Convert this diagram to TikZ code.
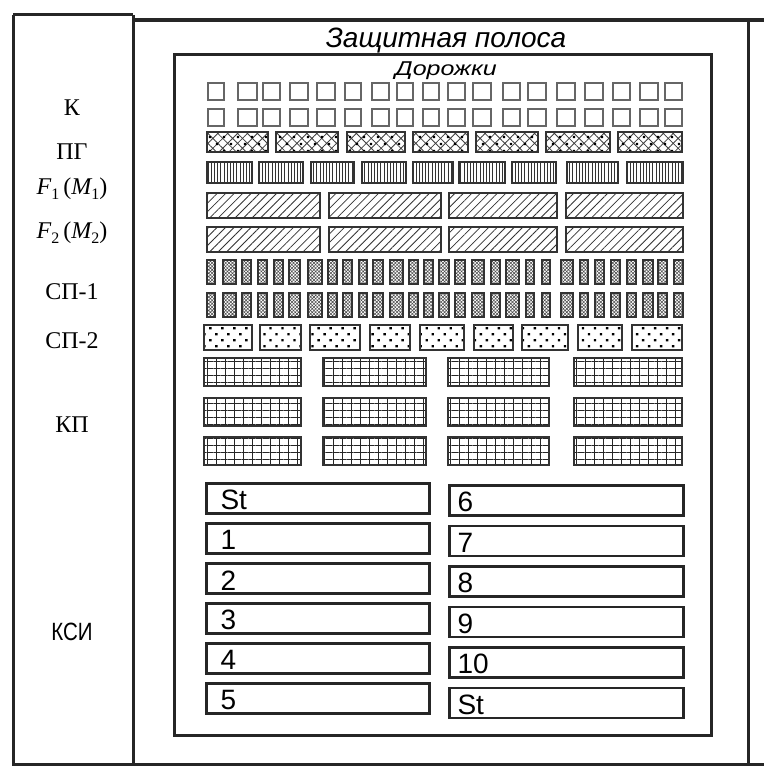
\documentclass[tikz,border=0pt]{standalone}
\usepackage{fontspec}
\setmainfont{Liberation Serif}
\setsansfont{Liberation Sans}
\usetikzlibrary{patterns,patterns.meta}
\newcommand{\subn}[1]{\raisebox{-.22em}{\fontsize{16}{16}\selectfont #1}}
\begin{document}
\begin{tikzpicture}[x=1pt,y=-1pt,
  frame/.style={line width=3pt, draw=black!85},
  sq/.style={draw=black!60, line width=1.5pt},
  blk/.style={draw=black!80, line width=1.8pt},
  lab/.style={font=\fontsize{24}{26}\selectfont, anchor=center},
  title/.style={font=\sffamily\itshape\fontsize{28}{30}\selectfont},
  kbox/.style={draw=black!85, line width=2.6pt, minimum width=223pt, minimum height=30pt, anchor=north west, inner sep=0pt},
  ktext/.style={font=\sffamily\fontsize{28}{30}\selectfont, anchor=west}
]
\useasboundingbox (0,0) rectangle (763,767);
\fill[white] (0,0) rectangle (763,767);
% frames
\draw[frame] (13,15) -- (133,15);
\draw[frame, line width=3.6pt] (133,20) -- (780,20);
\draw[frame] (13,15) -- (13,764) -- (780,764);
\draw[frame] (133,15) -- (133,764);
\draw[frame] (748,20) -- (748,764);
\draw[frame] (174,55) rectangle (711,735);
% titles
\node[title] (zp) at (446,41) {Защитная полоса};
\node[title, font=\sffamily\itshape\fontsize{20}{22}\selectfont, xscale=1.25, anchor=base, inner sep=0pt] (dr) at (446,76) {Дорожки};
% labels
\node[lab] (lK) at (72,108) {К};
\node[lab] (lPG) at (72,152) {ПГ};
\node[lab] (lF1) at (72,189) {{\itshape F}\subn{1}\,({\itshape M}\subn{1})};
\node[lab] (lF2) at (72,233) {{\itshape F}\subn{2}\,({\itshape M}\subn{2})};
\node[lab] (lSP1) at (72,292) {СП-1};
\node[lab] (lSP2) at (72,341) {СП-2};
\node[lab] (lKP) at (72,425) {КП};
\node[lab, font=\sffamily\fontsize{25}{27}\selectfont, xscale=.82] (lKSI) at (72,632) {КСИ};
% squares (К)
\foreach \a/\w in {208/16,238/19,263/17,290/18,317/18,345/16,372/17,397/16,423/16,448/17,473/18,503/17,528/18,557/18,585/18,613/17,640/18,665/17}{
  \draw[sq] (\a,83) rectangle ++(\w,17);
  \draw[sq] (\a,109) rectangle ++(\w,17);
}
% ПГ
\foreach \a/\b in {207/268,276/338,347/405,413/468,476/538,546/610,618/682}{
  \fill[pattern={Hatch[angle=45,distance=7pt,line width=.8pt]},pattern color=black!75] (\a,132) rectangle (\b,152);
  \fill[pattern={Dots[angle=45,distance=9.9pt,radius=1.6pt]},pattern color=black] (\a,132) rectangle (\b,152);
  \draw[blk] (\a,132) rectangle (\b,152);
}
% F1 vertical lines
\foreach \a/\b in {207/252,259/303,311/354,362/406,413/453,459/505,512/556,567/618,627/683}{
  \fill[pattern={Lines[angle=90,distance=3.2pt,line width=.7pt]},pattern color=black!80] (\a,162) rectangle (\b,183);
  \draw[blk] (\a,162) rectangle (\b,183);
}
% diagonal rows
\foreach \y in {193,227}{
  \foreach \a/\b in {207/320,329/441,449/557,566/683}{
    \fill[pattern={Lines[angle=45,distance=6pt,line width=.8pt]},pattern color=black!80] (\a,\y) rectangle (\b,\y+25);
    \draw[blk] (\a,\y) rectangle (\b,\y+25);
  }
}
% СП-1
\foreach \y in {260,293}{
  \foreach \a/\b in {207/215,223/236,242/251,258/267,274/283,289/300,308/322,328/337,343/352,359/367,373/383,390/403,409/418,424/433,439/449,455/465,472/484,491/500,506/519,526/534,542/550,561/573,580/588,595/604,611/620,627/636,643/653,658/667,674/683}{
    \fill[pattern={Hatch[angle=45,distance=2.4pt,line width=.55pt]},pattern color=black!70] (\a,\y) rectangle (\b,\y+24);
    \draw[blk] (\a,\y) rectangle (\b,\y+24);
  }
}
% СП-2
\foreach \a/\b in {204/252,260/301,310/360,370/410,420/464,474/513,522/568,578/622,632/682}{
  \fill[pattern={Dots[angle=45,distance=8.5pt,radius=1.7pt]},pattern color=black] (\a,325) rectangle (\b,350);
  \draw[blk] (\a,325) rectangle (\b,350);
}
% КП
\foreach \y in {358,398,437}{
  \foreach \a/\b in {204/301,323/426,448/549,574/682}{
    \fill[pattern={Lines[angle=0,distance=7pt,line width=.9pt]},pattern color=black!85] (\a,\y) rectangle (\b,\y+28);
    \fill[pattern={Lines[angle=90,distance=9pt,line width=.9pt]},pattern color=black!85] (\a,\y) rectangle (\b,\y+28);
    \draw[blk] (\a,\y) rectangle (\b,\y+28);
  }
}
% КСИ boxes
\foreach \t [count=\i from 0] in {St,1,2,3,4,5}{
  \node[kbox] (L\i) at (205,482+40*\i) {};
  \node[ktext] (Lt\i) at ([xshift=12pt,yshift=-2pt]L\i.west) {\t};
}
\foreach \t [count=\i from 0] in {6,7,8,9,10,St}{
  \node[kbox, minimum width=234pt] (R\i) at (448,484+40.5*\i) {};
  \node[ktext] (Rt\i) at ([xshift=6pt,yshift=-2pt]R\i.west) {\t};
}
\end{tikzpicture}
\end{document}
